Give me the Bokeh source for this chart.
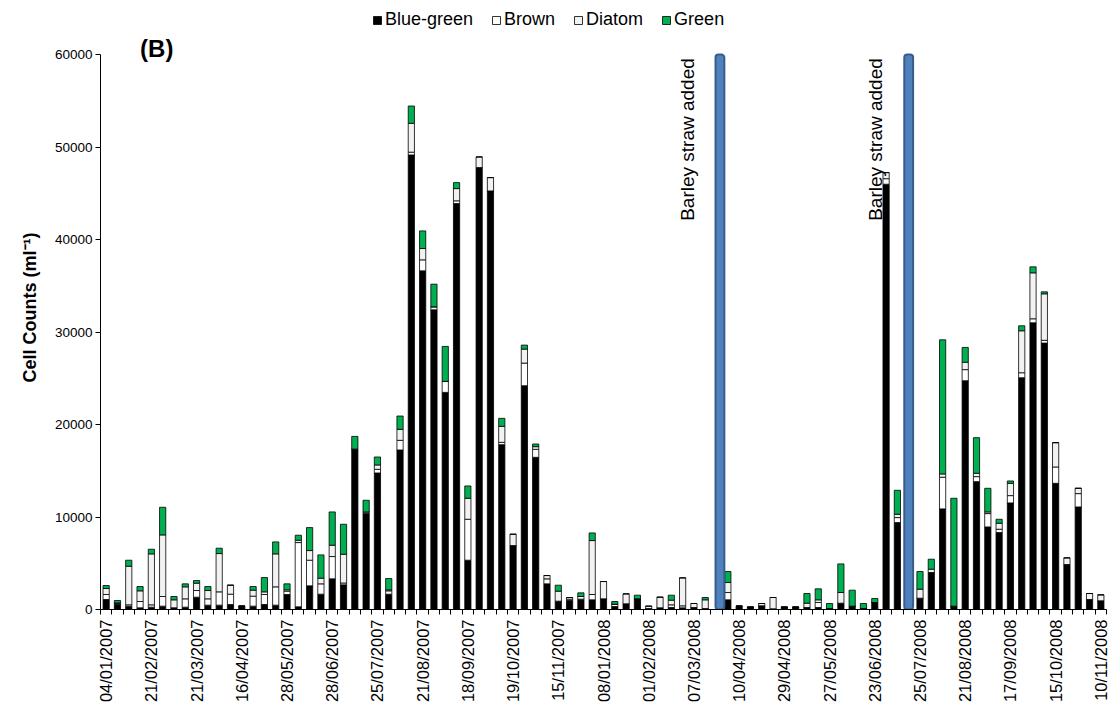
from math import pi

from bokeh.core.properties import value
from bokeh.embed import file_html
from bokeh.models import (ColumnDataSource, FixedTicker, Label, Legend, LegendItem,
                          NumeralTickFormatter, Range1d)
from bokeh.plotting import figure
from bokeh.resources import INLINE

# Phytoplankton cell counts per sampling date (cells per ml), stacked by group
blue_green = [1080, 540, 360, 180, 252, 360, 180, 252, 1332, 468,
              468, 540, 360, 360, 540, 468, 1620, 288, 2556, 1656,
              3312, 2664, 17244, 10368, 14760, 1656, 17244, 49140, 36612, 32400,
              23472, 43884, 5328, 47772, 45252, 17820, 6912, 24192, 16452, 2772,
              900, 972, 1116, 1044, 1152, 324, 612, 1152, 100, 180,
              216, 180, 216, 100, 0, 1044, 360, 252, 396, 72,
              252, 252, 216, 216, 108, 684, 360, 108, 756, 45976,
              9396, 0, 1224, 3996, 10876, 360, 24732, 13824, 8928, 8316,
              11520, 25056, 30996, 28800, 13644, 4860, 11088, 1080, 936]

brown = [540, 100, 150, 684, 252, 1044, 0, 900, 720, 684,
         1440, 1116, 0, 1080, 1080, 1980, 360, 6948, 2772, 1116,
         2412, 200, 100, 180, 396, 360, 1044, 300, 1188, 324,
         1188, 300, 4428, 0, 0, 252, 0, 2448, 864, 540,
         0, 144, 288, 576, 0, 252, 0, 0, 0, 0,
         288, 216, 0, 0, 0, 792, 0, 0, 0, 0,
         0, 0, 0, 540, 0, 0, 0, 0, 0, 600,
         540, 0, 0, 0, 3420, 0, 1200, 540, 1440, 360,
         792, 540, 432, 300, 1764, 0, 1440, 0, 0]

diatom = [648, 80, 4170, 1152, 5508, 6660, 864, 1296, 792, 900,
          4140, 972, 0, 648, 288, 3564, 144, 252, 1044, 612,
          1224, 3112, 0, 0, 468, 108, 1188, 3120, 1224, 0,
          0, 1320, 2268, 1152, 1440, 1728, 1224, 1512, 288, 360,
          1080, 180, 0, 5832, 1872, 0, 1080, 0, 260, 1152,
          504, 3024, 432, 944, 0, 1080, 0, 0, 252, 1224,
          0, 0, 468, 288, 0, 1152, 0, 0, 0, 660,
          360, 0, 972, 360, 360, 0, 800, 360, 180, 648,
          1332, 4536, 4968, 5028, 2628, 720, 576, 648, 648]

green = [324, 252, 648, 468, 504, 2988, 360, 324, 288, 432,
         576, 0, 0, 396, 1548, 1296, 648, 540, 2484, 2520,
         3600, 3240, 1368, 1260, 864, 1224, 1440, 1872, 1908, 2448,
         3780, 648, 1332, 0, 0, 864, 0, 432, 288, 0,
         648, 0, 396, 828, 0, 288, 0, 396, 0, 0,
         540, 0, 0, 252, 0, 1188, 0, 0, 0, 0,
         0, 0, 1044, 1188, 540, 3096, 1728, 540, 432, 0,
         2592, 0, 1908, 1080, 14500, 11664, 1600, 3852, 2556, 432,
         252, 540, 648, 216, 0, 0, 0, 0, 0]

# Every fourth sampling date is labelled on the axis
date_labels = ["04/01/2007", "21/02/2007", "21/03/2007", "16/04/2007", "28/05/2007",
               "28/06/2007", "25/07/2007", "21/08/2007", "18/09/2007", "19/10/2007",
               "15/11/2007", "08/01/2008", "01/02/2008", "07/03/2008", "10/04/2008",
               "29/04/2008", "27/05/2008", "23/06/2008", "25/07/2008", "21/08/2008",
               "17/09/2008", "15/10/2008", "10/11/2008"]
label_step = 4

series_names = ["Blue-green", "Brown", "Diatom", "Green"]
series_colors = ["#000000", "#FFFFFF", "#F2F2F2", "#00B050"]

# Sample slots at which barley straw was put into the water
straw_slots = [54.3, 71.0]
straw_text = "Barley straw added"

FONT = "Liberation Sans"
n = len(blue_green)
y_axis_max = 60000

# frame geometry: axis top sits 49 px below the frame top, leaving room for
# the legend and panel letter inside the frame
W, H = 1112, 709
border_top, border_bottom = 5, 100
frame_h = H - border_top - border_bottom
axis_px = frame_h - 49
y_end = y_axis_max * frame_h / axis_px

src = ColumnDataSource(dict(x=list(range(n)), bg=blue_green, br=brown, di=diatom, gr=green))

p = figure(width=W, height=H, output_backend="svg", toolbar_location=None,
           x_range=Range1d(-0.5, n - 0.5), y_range=Range1d(0, y_end),
           min_border_left=100, min_border_right=6,
           min_border_top=border_top, min_border_bottom=border_bottom)
p.outline_line_color = None
p.xgrid.visible = False
p.ygrid.visible = False
p.background_fill_color = "white"

stack = p.vbar_stack(["bg", "br", "di", "gr"], x="x", width=0.55, source=src,
                     fill_color=series_colors, line_color="black", line_width=0.8)

# straw treatment markers
p.vbar(x=straw_slots, bottom=0, top=y_axis_max, width=0.78, fill_color="#4F81BD",
       line_color="#385D8A", line_width=2, border_radius=3)
p.text(x=[s - 2.9 for s in straw_slots], y=[59600] * len(straw_slots),
       text=[straw_text] * len(straw_slots), angle=pi / 2, text_align="right",
       text_baseline="middle", text_font=value(FONT), text_font_size="19px",
       text_color="black")

p.add_layout(Label(x=3.0, y=y_axis_max + 6 * y_end / frame_h, text="(B)", text_font=FONT,
                   text_font_size="24px", text_font_style="bold",
                   text_baseline="middle", text_align="left", text_color="black"))

legend = Legend(items=[LegendItem(label=nm, renderers=[r]) for nm, r in zip(series_names, stack)],
                orientation="horizontal", location=(272, frame_h - 25),
                glyph_width=10, glyph_height=10, label_standoff=3, spacing=18,
                padding=0, margin=0, label_height=20,
                border_line_color=None, background_fill_alpha=0,
                label_text_font=FONT, label_text_font_size="18px", label_text_color="black")
p.add_layout(legend)

# x axis: labels under every fourth date, ticks between categories
xa = p.xaxis[0]
xa.ticker = FixedTicker(ticks=list(range(0, n, label_step)),
                        minor_ticks=[i - 0.5 for i in range(n + 1)])
xa.major_label_overrides = {i * label_step: d for i, d in enumerate(date_labels)}
xa.major_label_orientation = pi / 2
xa.major_tick_out = 0
xa.major_tick_in = 0
xa.minor_tick_out = 5
xa.minor_tick_in = 0
xa.major_label_standoff = 5
xa.major_label_text_font = FONT
xa.major_label_text_font_size = "16.5px"
xa.major_label_text_color = "black"
xa.axis_line_color = "black"
xa.minor_tick_line_color = "black"

ya = p.yaxis[0]
ya.bounds = (0, y_axis_max)
ya.ticker = FixedTicker(ticks=list(range(0, y_axis_max + 1, 10000)))
ya.formatter = NumeralTickFormatter(format="0")
ya.major_tick_out = 5
ya.major_tick_in = 0
ya.minor_tick_out = 0
ya.minor_tick_in = 0
ya.major_label_standoff = 3
ya.major_label_text_font = FONT
ya.major_label_text_font_size = "13.5px"
ya.major_label_text_color = "black"
ya.axis_line_color = "black"
ya.major_tick_line_color = "black"
ya.axis_label = "Cell Counts (ml\u207b\u00b9)"
ya.axis_label_text_font = FONT
ya.axis_label_text_font_size = "18px"
ya.axis_label_text_font_style = "bold"
ya.axis_label_text_color = "black"
ya.axis_label_standoff = 12

open("out.html", "w").write(file_html(p, INLINE))
